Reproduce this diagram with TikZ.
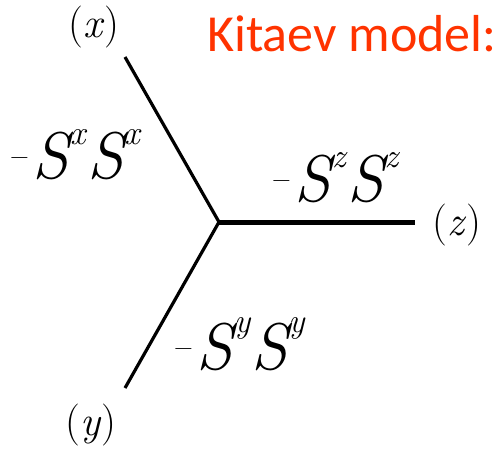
\documentclass[tikz,border=0pt]{standalone}
\usepackage{fontspec}
\newfontfamily\calib{Carlito}
\definecolor{kitred}{RGB}{255,51,0}
\newcommand\spinop[2]{\textit{S}\kern-4pt\raisebox{#2}{\fontsize{34}{34}\selectfont\textit{#1}}}
\newcommand\negsign{\raisebox{14pt}{\fontsize{26}{26}\selectfont −}\hspace{4pt}}
\newcommand\bond[2]{\negsign\spinop{#1}{#2}\spinop{#1}{#2}}
\begin{document}
\begin{tikzpicture}[x=1pt,y=-1pt,
  txt/.style={inner sep=0pt,anchor=base west},
  lbl/.style={txt,font=\rmfamily\fontsize{42}{42}\selectfont},
  bondlbl/.style={txt,font=\rmfamily\fontsize{66}{66}\selectfont},
  leg/.style={line width=3.2pt},
  zleg/.style={line width=5pt}]
\useasboundingbox (0,0) rectangle (503,451);
\coordinate (c) at (219,222);
\coordinate (ex) at (125,57);
\coordinate (ey) at (125,388);
\coordinate (ez) at (415,222);
\draw[leg] (ex) -- (c);
\draw[leg] (ey) -- (c);
\draw[zleg] (c) -- (ez);
\node[lbl] (lx) at (68,37) {(\textit{x})};
\node[lbl] (lz) at (432,235) {(\textit{z})};
\node[lbl] (ly) at (65,435) {(\textit{y})};
\node[bondlbl] (bx) at (10,178) {\bond{x}{34pt}};
\node[bondlbl] (bz) at (272,201) {\bond{z}{34pt}};
\node[bondlbl] (by) at (174,369) {\bond{y}{37pt}};
\node[txt,font=\calib\fontsize{52}{52}\selectfont,text=kitred] (title) at (207,51) {Kitaev model:};
\end{tikzpicture}
\end{document}
